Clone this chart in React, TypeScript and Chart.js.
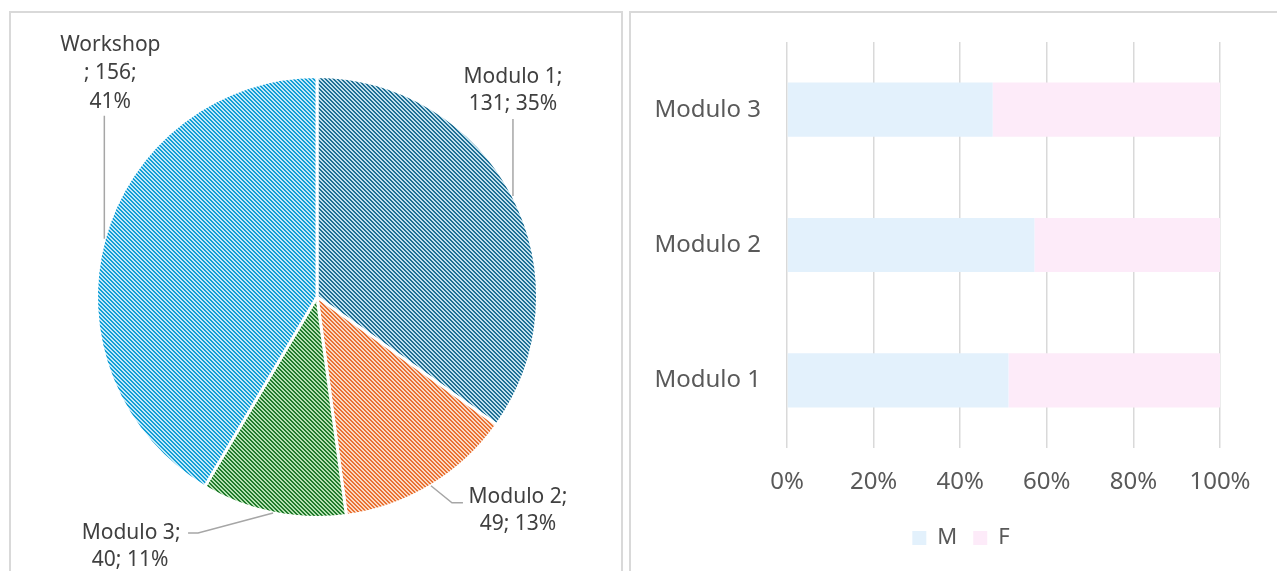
import React, { useEffect, useRef } from "react";
import { Chart, registerables } from "chart.js";
Chart.register(...registerables);

// ---- data ----
const pieLabels = ["Modulo 1", "Modulo 2", "Modulo 3", "Workshop"];
const pieValues = [131, 49, 40, 156];

const barCategories = ["Modulo 3", "Modulo 2", "Modulo 1"];
const maleCounts = [19, 28, 67];
const femaleCounts = [21, 21, 64];
const seriesNames = ["M", "F"];
const xTickValues = [0, 20, 40, 60, 80, 100];

// ---- styles ----
const FONT = "'Noto Sans', 'Open Sans', sans-serif";
const pieFg = ["#1f6f94", "#E97132", "#1f7a2b", "#139fd6"];
const pieBg = ["#c2e0ed", "#fbd9c4", "#b5e0b1", "#c2e8f8"];

// label layout relative to slice mid-edge point: leader path and text line centers
const labelLayout = [
  { leader: [[0, -77]], lines: "two", text: [[0, -119], [0, -92]] },
  { leader: [[21, 17], [32, 17]], lines: "two", text: [[87, 11], [87, 38]] },
  { leader: [[-75, 20], [-85, 20]], lines: "two", text: [[-142, 20], [-143, 47]] },
  { leader: [[0, -123]], lines: "three", text: [[6, -194], [6, -166], [6, -137]] },
];

function makePattern(ctx: CanvasRenderingContext2D, fg: string, bg: string) {
  const t = document.createElement("canvas");
  t.width = 4;
  t.height = 4;
  const c = t.getContext("2d")!;
  c.fillStyle = bg;
  c.fillRect(0, 0, 4, 4);
  c.fillStyle = fg;
  for (let x = 0; x < 4; x++) {
    for (let y = 0; y < 4; y++) {
      const k = (x - y + 8) % 4;
      if (k === 0 || k === 1) c.fillRect(x, y, 1, 1);
    }
  }
  return ctx.createPattern(t, "repeat")!;
}

const pieLabelPlugin = {
  id: "pieLabels",
  afterDatasetsDraw(chart: any) {
    const ctx = chart.ctx as CanvasRenderingContext2D;
    const meta = chart.getDatasetMeta(0);
    const data = chart.data.datasets[0].data as number[];
    const names = chart.data.labels as string[];
    const total = data.reduce((a, b) => a + b, 0);
    ctx.save();
    meta.data.forEach((arc: any, i: number) => {
      const p = arc.getProps(["x", "y", "startAngle", "endAngle", "outerRadius"], true);
      const mid = (p.startAngle + p.endAngle) / 2;
      const ex = p.x + Math.cos(mid) * p.outerRadius;
      const ey = p.y + Math.sin(mid) * p.outerRadius;
      const spec = labelLayout[i];
      ctx.strokeStyle = "#a6a6a6";
      ctx.lineWidth = 1.5;
      ctx.beginPath();
      ctx.moveTo(ex, ey);
      spec.leader.forEach(([dx, dy]) => ctx.lineTo(ex + dx, ey + dy));
      ctx.stroke();
      const v = data[i];
      const pct = Math.round((v / total) * 100);
      const lines =
        spec.lines === "two"
          ? [`${names[i]};`, `${v}; ${pct}%`]
          : [names[i], `; ${v};`, `${pct}%`];
      ctx.fillStyle = "#404040";
      ctx.font = `21px ${FONT}`;
      ctx.textAlign = "center";
      ctx.textBaseline = "middle";
      lines.forEach((ln, j) => {
        const [tx, ty] = spec.text[j];
        ctx.fillText(ln, ex + tx, ey + ty);
      });
    });
    ctx.restore();
  },
};

// re-centre the bar chart legend across the span used in the reference
const legendShiftPlugin = {
  id: "legendShift",
  beforeDraw(chart: any) {
    const lg = chart.legend;
    if (!lg) return;
    lg.left = chart.chartArea.left - 85;
    lg.right = chart.chartArea.right;
  },
};

function PieChart() {
  const ref = useRef<HTMLCanvasElement>(null);
  useEffect(() => {
    const cv = ref.current!;
    const ctx = cv.getContext("2d")!;
    const patterns = pieFg.map((fg, i) => makePattern(ctx, fg, pieBg[i]));
    const chart = new Chart(cv, {
      type: "pie",
      data: {
        labels: pieLabels,
        datasets: [
          {
            data: pieValues,
            backgroundColor: patterns as any,
            borderColor: "#ffffff",
            borderWidth: 3,
          },
        ],
      },
      options: {
        responsive: false,
        animation: false,
        layout: { padding: { left: 83, right: 81, top: 61, bottom: 52 } },
        plugins: { legend: { display: false }, tooltip: { enabled: false } },
      },
      plugins: [pieLabelPlugin],
    });
    return () => chart.destroy();
  }, []);
  return (
    <canvas
      ref={ref}
      width={608}
      height={557}
      style={{ position: "absolute", left: 12, top: 14, width: 608, height: 557 }}
    />
  );
}

function BarChart() {
  const ref = useRef<HTMLCanvasElement>(null);
  useEffect(() => {
    const totals = maleCounts.map((m, i) => m + femaleCounts[i]);
    const malePct = maleCounts.map((m, i) => (m / totals[i]) * 100);
    const femalePct = femaleCounts.map((f, i) => (f / totals[i]) * 100);
    const axisFont = { size: 24, family: FONT };
    const chart = new Chart(ref.current!, {
      type: "bar",
      data: {
        labels: barCategories,
        datasets: [
          {
            label: seriesNames[0],
            data: malePct,
            backgroundColor: "#e3f1fc",
            barPercentage: 0.4,
            categoryPercentage: 1,
          },
          {
            label: seriesNames[1],
            data: femalePct,
            backgroundColor: "#fdebf9",
            barPercentage: 0.4,
            categoryPercentage: 1,
          },
        ],
      },
      options: {
        indexAxis: "y",
        responsive: false,
        animation: false,
        layout: { padding: { left: 0, right: 57, top: 28, bottom: 12 } },
        scales: {
          x: {
            stacked: true,
            min: xTickValues[0],
            max: xTickValues[xTickValues.length - 1],
            afterBuildTicks: (s: any) => {
              s.ticks = xTickValues.map((v) => ({ value: v }));
            },
            ticks: {
              callback: (v: any) => `${v}%`,
              color: "#595959",
              font: axisFont,
              padding: 20,
            },
            grid: { color: "#d9d9d9", lineWidth: 1.5, drawTicks: false },
            border: { display: false },
            afterFit: (s: any) => {
              s.height = 63;
            },
          },
          y: {
            stacked: true,
            ticks: { color: "#595959", font: axisFont, padding: 10 },
            grid: { display: false, drawTicks: true, tickLength: 16 },
            border: { display: false },
            afterFit: (s: any) => {
              s.width = 154;
            },
          },
        },
        plugins: {
          legend: {
            position: "bottom",
            labels: {
              boxWidth: 14,
              boxHeight: 14,
              padding: 16,
              color: "#595959",
              font: { size: 22, family: FONT },
            },
          },
          tooltip: { enabled: false },
        },
      },
      plugins: [legendShiftPlugin],
    });
    return () => chart.destroy();
  }, []);
  return (
    <canvas
      ref={ref}
      width={644}
      height={557}
      style={{ position: "absolute", left: 633, top: 14, width: 644, height: 557 }}
    />
  );
}

export default function App() {
  const panel: React.CSSProperties = {
    position: "absolute",
    boxSizing: "border-box",
    border: "2px solid #d9d9d9",
    background: "#ffffff",
  };
  return (
    <div
      style={{
        position: "fixed",
        left: 0,
        top: 0,
        width: 1277,
        height: 571,
        overflow: "hidden",
        background: "#ffffff",
      }}
    >
      <div style={{ ...panel, left: 9, top: 11, width: 614, height: 640 }} />
      <div style={{ ...panel, left: 629, top: 11, width: 700, height: 640 }} />
      <PieChart />
      <BarChart />
    </div>
  );
}
